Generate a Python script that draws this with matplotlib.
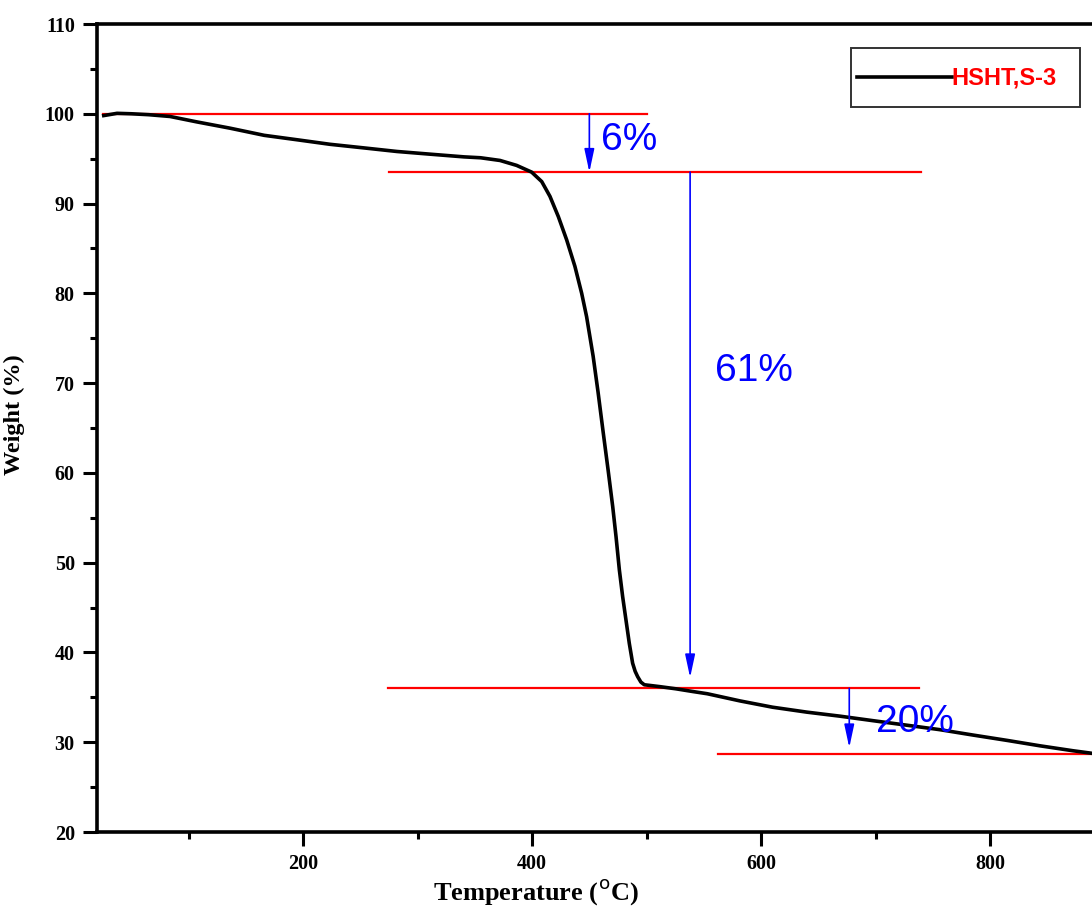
import numpy as np
import matplotlib
matplotlib.use("Agg")
import matplotlib.pyplot as plt
from matplotlib.ticker import MultipleLocator
from matplotlib.patches import Rectangle
from matplotlib.lines import Line2D

# TGA curve of sample HSHT,S-3
temperature = [25.9, 37.5, 50, 65, 83.8, 107, 136, 166, 195, 223.5, 253, 282, 311,
               340.5, 355, 372, 386.5, 399.6, 408.4, 415.6, 422.9, 430.2, 437.4,
               443.3, 447.6, 453.3, 457.6, 462, 466.4, 470.4, 473.3, 476.2, 479.1,
               482, 484.9, 487.8, 490, 492.2, 495, 498, 511, 525.6, 540.2, 553,
               581.6, 610, 640, 669, 697.7, 727, 756, 785, 815, 843.6, 872.4, 887, 895]
weight = [99.8, 100.05, 100.0, 99.9, 99.7, 99.1, 98.4, 97.6, 97.1, 96.6, 96.2, 95.8,
          95.5, 95.2, 95.1, 94.8, 94.25, 93.5, 92.45, 90.8, 88.55, 85.95, 83.0,
          80.0, 77.4, 73.0, 69.0, 64.6, 60.3, 56.25, 52.9, 49.2, 46.2,
          43.6, 41.0, 38.8, 37.9, 37.3, 36.7, 36.4, 36.2, 35.95, 35.65, 35.4,
          34.6, 33.9, 33.35, 32.9, 32.4, 31.9, 31.4, 30.8, 30.2, 29.6, 29.05, 28.8, 28.65]

# horizontal reference levels (weight, start T, end T)
level_w = [100.0, 93.5, 36.0, 28.7]
level_start = [25, 275, 274, 562]
level_end = [500, 740, 738, 920]

# weight-loss steps: arrow x, top, tip, label, label position
step_x = [450, 538, 677]
step_top = [100.0, 93.5, 36.0]
step_tip = [93.5, 37.2, 29.4]
step_label = ["6%", "61%", "20%"]
label_x = [460, 560, 700]
label_y = [97.1, 71.3, 32.3]

fig = plt.figure(figsize=(10.92, 9.16), dpi=100)
W, H = 1092, 916
ax = fig.add_axes([97 / W, 84 / H, 1030.5 / W, 808 / H])

for w, s, e in zip(level_w, level_start, level_end):
    ax.plot([s, e], [w, w], color="#ff0000", lw=1.6, zorder=2)

ax.plot(temperature, weight, color="black", lw=2.6, zorder=3,
        solid_joinstyle="round")

for x, top, tip in zip(step_x, step_top, step_tip):
    ax.annotate("", xy=(x, tip), xytext=(x, top),
                arrowprops=dict(arrowstyle="-|>,head_length=1.4,head_width=0.3",
                                color="blue", lw=1.2, shrinkA=0, shrinkB=0,
                                mutation_scale=10),
                zorder=4)

for t, x, y in zip(step_label, label_x, label_y):
    ax.text(x, y, t, color="blue", fontsize=28, family="Liberation Sans",
            ha="left", va="center", zorder=5)

ax.set_xlim(20, 920)
ax.set_ylim(20, 110)
ax.xaxis.set_major_locator(MultipleLocator(200))
ax.xaxis.set_minor_locator(MultipleLocator(100))
ax.yaxis.set_major_locator(MultipleLocator(10))
ax.yaxis.set_minor_locator(MultipleLocator(5))

for sp in ax.spines.values():
    sp.set_linewidth(2.6)
ax.tick_params(which="major", direction="out", length=10, width=2.2, pad=6)
ax.tick_params(which="minor", direction="out", length=5, width=2.2)
for lab in ax.get_xticklabels() + ax.get_yticklabels():
    lab.set_family("Liberation Serif")
    lab.set_fontweight("bold")
    lab.set_fontsize(14.5)

plt.rcParams["mathtext.fontset"] = "stix"
ax.set_xlabel(r"Temperature ($^{\mathrm{o}}$C)", family="Liberation Serif",
              fontweight="bold", fontsize=19)
ax.xaxis.set_label_coords((536 - 97) / 1030.5, -0.056)
ax.set_ylabel("Weight (%)", family="Liberation Serif", fontweight="bold",
              fontsize=17.5)
ax.yaxis.set_label_coords(-0.07, 0.516)

# legend box drawn in figure pixels
fig.add_artist(Rectangle((851 / W, 1 - 107 / H), 229 / W, 59 / H,
                         transform=fig.transFigure, fill=False,
                         edgecolor="#333333", lw=1.4))
fig.add_artist(Line2D([857 / W, 952 / W], [1 - 77 / H, 1 - 77 / H],
                      transform=fig.transFigure, color="black", lw=2.6))
fig.text(951 / W, 1 - 78 / H, "HSHT,S-3", color="red", fontsize=17,
         fontweight="bold", family="Liberation Sans", ha="left", va="center")

fig.savefig("out.png", dpi=100)
